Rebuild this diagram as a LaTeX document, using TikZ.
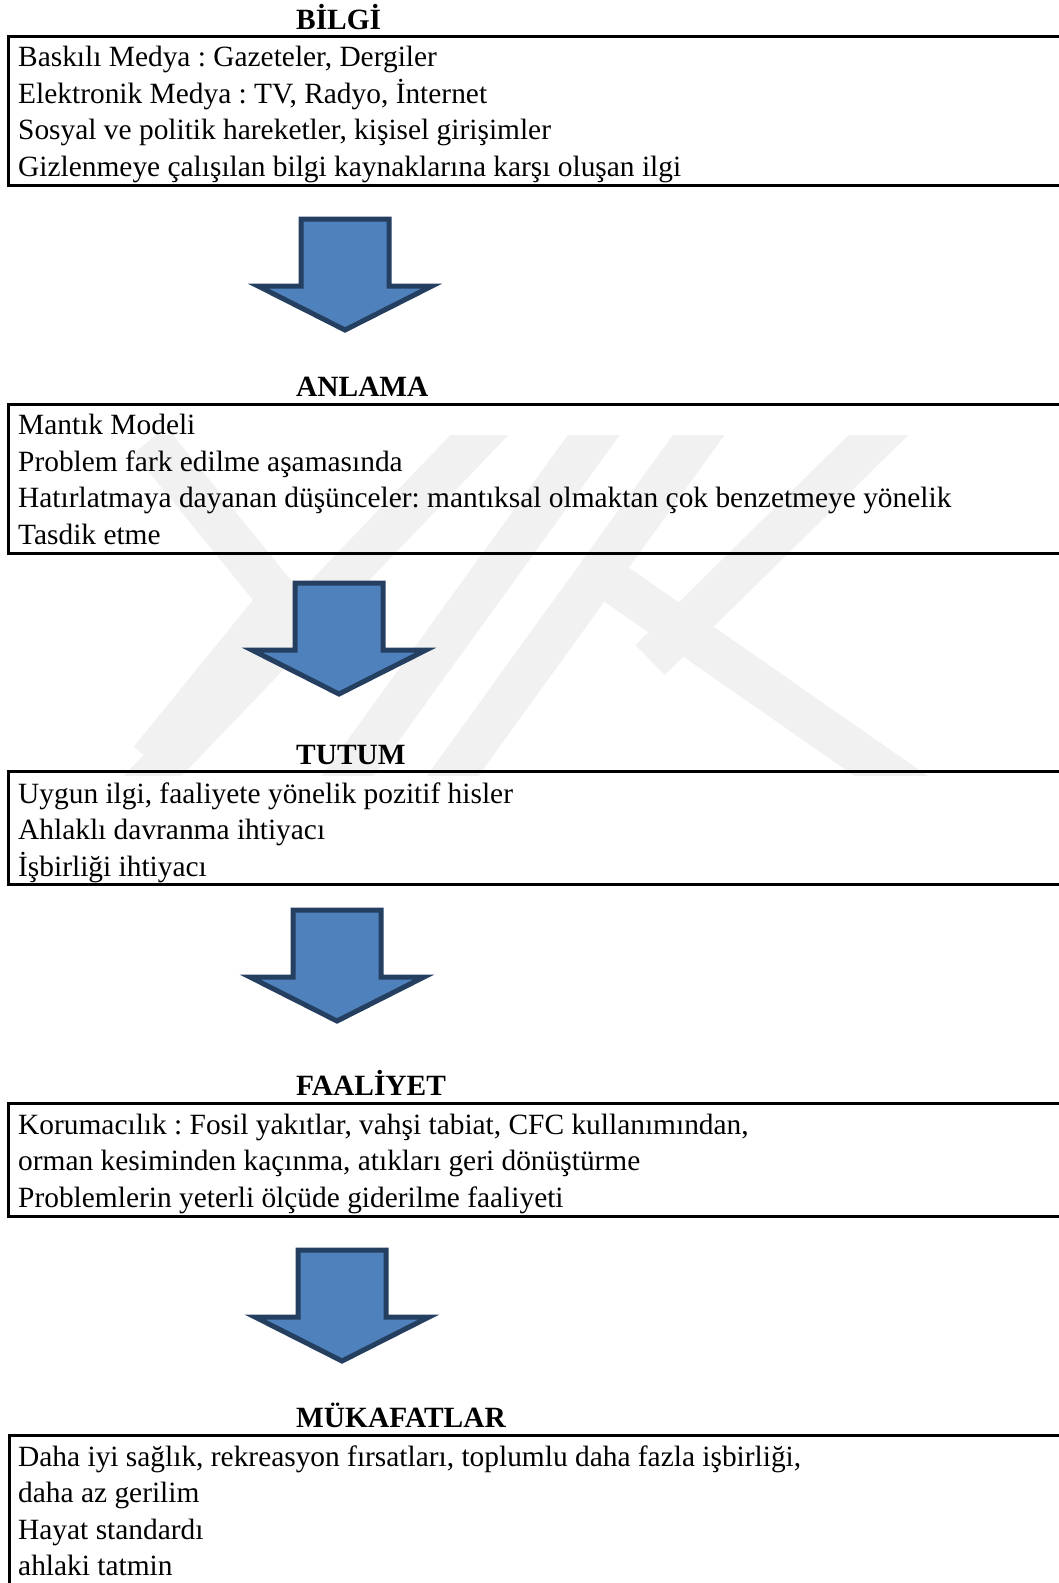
\documentclass[tikz,border=0pt]{standalone}
\usepackage{fontspec}
\setmainfont{Liberation Serif}
\frenchspacing
\definecolor{arrowfill}{HTML}{4F81BD}
\definecolor{arrowline}{HTML}{243F60}
\definecolor{wmgray}{HTML}{F1F1F1}
\tikzset{
  frame/.style={line width=3pt},
  title/.style={anchor=base west,inner sep=0pt,font=\fontsize{29.4}{36}\selectfont\bfseries},
  item/.style={anchor=base west,inner sep=0pt,font=\fontsize{29.4}{36}\selectfont},
  blockarrow/.style={fill=arrowfill,draw=arrowline,line width=5pt},
  wm/.style={draw=wmgray,line width=42pt}
}
% #1 centre x, #2 top of the shaft
\newcommand{\flowarrow}[2]{%
  \draw[blockarrow] (#1-44,#2) -- (#1+44,#2) -- (#1+44,#2+67) -- (#1+87,#2+67)
    -- (#1,#2+111) -- (#1-87,#2+67) -- (#1-44,#2+67) -- cycle;
}

\begin{document}
\begin{tikzpicture}[x=1pt,y=-1pt]
    \useasboundingbox (0,0) rectangle (1059,1583);
    % watermark
    \begin{scope}
      \clip (0,435) rectangle (1059,775);
      \draw[wm] (150,440) -- (280,600) -- (150,760);
      \draw[wm] (513,400) -- (120,810);
      \draw[wm] (619,400) -- (323,810);
      \draw[wm] (724,400) -- (428,810);
      \draw[wm] (914,400) -- (650,660);
      \draw[wm] (610,580) -- (940,810);
    \end{scope}

    % BILGI
    \node[title] (bilgi) at (296,29) {BİLGİ};
    \draw[frame] (8,36) rectangle (1075,185);
    \node[item] (bilgi1) at (18,66.5) {Baskılı Medya : Gazeteler, Dergiler};
    \node[item] (bilgi2) at (18,103) {Elektronik Medya : TV, Radyo, İnternet};
    \node[item] (bilgi3) at (18,139.5) {Sosyal ve politik hareketler, kişisel girişimler};
    \node[item] (bilgi4) at (18,176) {Gizlenmeye çalışılan bilgi kaynaklarına karşı oluşan ilgi};

    \flowarrow{345}{219}

    % ANLAMA
    \node[title] (anlama) at (296,396) {ANLAMA};
    \draw[frame] (8,404) rectangle (1075,553);
    \node[item] (anlama1) at (18,434) {Mantık Modeli};
    \node[item] (anlama2) at (18,471) {Problem fark edilme aşamasında};
    \node[item] (anlama3) at (18,507.5) {Hatırlatmaya dayanan düşünceler: mantıksal olmaktan çok benzetmeye yönelik};
    \node[item] (anlama4) at (18,544) {Tasdik etme};

    \flowarrow{339}{583}

    % TUTUM
    \node[title] (tutum) at (296,764) {TUTUM};
    \draw[frame] (8,771) rectangle (1075,884);
    \node[item] (tutum1) at (18,803) {Uygun ilgi, faaliyete yönelik pozitif hisler};
    \node[item] (tutum2) at (18,839.5) {Ahlaklı davranma ihtiyacı};
    \node[item] (tutum3) at (18,876) {İşbirliği ihtiyacı};

    \flowarrow{337}{910}

    % FAALIYET
    \node[title] (faaliyet) at (296,1095) {FAALİYET};
    \draw[frame] (8,1103) rectangle (1075,1216);
    \node[item] (faaliyet1) at (18,1134) {Korumacılık : Fosil yakıtlar, vahşi tabiat, CFC kullanımından,};
    \node[item] (faaliyet2) at (18,1170.5) {orman kesiminden kaçınma, atıkları geri dönüştürme};
    \node[item] (faaliyet3) at (18,1207) {Problemlerin yeterli ölçüde giderilme faaliyeti};

    \flowarrow{342}{1250}

    % MUKAFATLAR
    \node[title] (mukafat) at (296,1427) {MÜKAFATLAR};
    \draw[frame] (9,1600) |- (1075,1435);
    \node[item] (mukafat1) at (18,1466) {Daha iyi sağlık, rekreasyon fırsatları, toplumlu daha fazla işbirliği,};
    \node[item] (mukafat2) at (18,1502.5) {daha az gerilim};
    \node[item] (mukafat3) at (18,1539) {Hayat standardı};
    \node[item] (mukafat4) at (18,1575.5) {ahlaki tatmin};
\end{tikzpicture}
\end{document}
